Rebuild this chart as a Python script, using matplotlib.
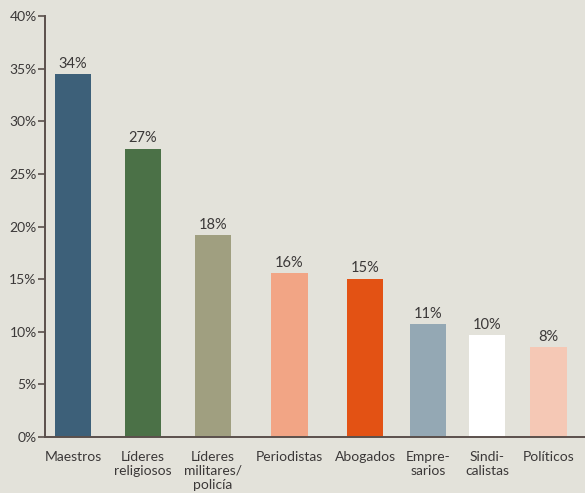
import matplotlib
matplotlib.use("Agg")
from matplotlib import pyplot as plt

plt.rcParams["font.family"] = ["Lato", "DejaVu Sans"]

# Data
categories = ["Maestros", "Líderes\nreligiosos", "Líderes\nmilitares/\npolicía", "Periodistas",
              "Abogados", "Empre-\nsarios", "Sindi-\ncalistas", "Políticos"]
values = [34.5, 27.4, 19.2, 15.6, 15.05, 10.76, 9.7, 8.57]
value_labels = ["34%", "27%", "18%", "16%", "15%", "11%", "10%", "8%"]
colors = ["#3d6079", "#4b7147", "#a09f80", "#f2a585", "#e35214", "#94a8b4", "#ffffff", "#f5c8b5"]
# slot positions (uneven spacing as in the original)
slots = [0, 1, 2, 3.09, 4.17, 5.07, 5.91, 6.79]
yticks = [0, 5, 10, 15, 20, 25, 30, 35, 40]

bg = "#e3e2da"
text_col = "#3b3838"
axis_col = "#5b504c"

fig = plt.figure(figsize=(5.85, 4.93), dpi=100, facecolor=bg)
ax = fig.add_axes([45 / 585, 1 - 437 / 493, 1 - 45 / 585, (437 - 16) / 493])
ax.set_facecolor(bg)

ax.bar(slots, values, width=0.52, color=colors, zorder=2)
for x, v, lab in zip(slots, values, value_labels):
    ax.text(x, v + 0.3, lab, ha="center", va="bottom", fontsize=10.5, color=text_col)

ax.set_xlim(-0.4, 7.31)
ax.set_ylim(0, 40)
ax.set_yticks(yticks)
ax.set_yticklabels([f"{t}%" for t in yticks])
ax.set_xticks(slots)
ax.set_xticklabels(categories, linespacing=1.2)

for s in ["top", "right"]:
    ax.spines[s].set_visible(False)
for s in ["left", "bottom"]:
    ax.spines[s].set_color(axis_col)
    ax.spines[s].set_linewidth(1.4)

ax.tick_params(axis="y", length=5, width=1.2, color=axis_col, labelcolor=text_col, labelsize=10, pad=1)
ax.tick_params(axis="x", length=0, labelcolor=text_col, labelsize=10, pad=10)

fig.savefig("out.png", dpi=100, facecolor=bg)
